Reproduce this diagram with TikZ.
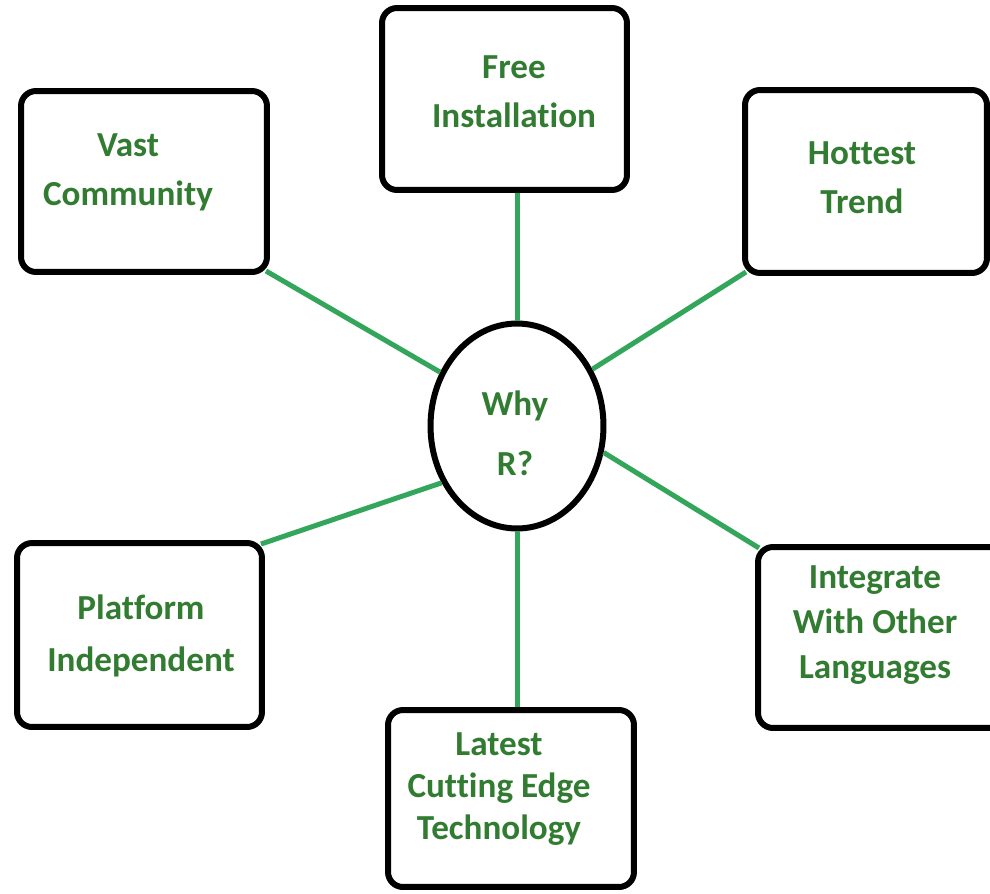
\documentclass[tikz,border=0pt]{standalone}
\usepackage{fontspec}
\setmainfont[Ligatures=CommonOff]{Carlito}
\usepackage{tikz}
\usetikzlibrary{shapes.geometric}
\definecolor{txtgreen}{RGB}{50,124,50}
\definecolor{linkgreen}{RGB}{52,166,92}
\tikzset{
  box/.style = {rectangle, draw=black, line width=0.12cm, rounded corners=0.3cm,
    minimum width=4.9cm, minimum height=3.64cm, fill=white},% outer boxes
  oval/.style = {ellipse, draw=black, line width=0.12cm,
    minimum width=3.46cm, minimum height=4.1cm, inner sep=0pt},% centre
  lbl/.style = {align=center, inner sep=0pt, text=txtgreen,
    font=\bfseries\fontsize{20}{28}\selectfont},% green labels
  link/.style = {draw=linkgreen, line width=0.1cm}% spokes
}
\begin{document}
\begin{tikzpicture}[x=0.02cm,y=-0.02cm]
  \useasboundingbox (0,0) rectangle (990,893);
  \clip (0,0) rectangle (990,893);
  % boxes
  \node [oval] (why) at (517,426) {};
  \node [box] (free) at (504.5,99) {};
  \node [box, minimum width=4.92cm, minimum height=3.62cm] (vast) at (144,181.5) {};
  \node [box, minimum width=4.84cm, minimum height=3.66cm] (hottest) at (866,181.5) {};
  \node [box, minimum height=3.68cm] (platform) at (139.5,635) {};
  \node [box, minimum width=4.94cm, minimum height=3.62cm] (integ) at (881.5,637.5) {};
  \node [box, minimum width=4.92cm, minimum height=3.54cm] (latest) at (511,798.5) {};
  % labels
  \node [lbl, font=\bfseries\fontsize{20}{34}\selectfont] (whyT) at (515,433) {Why\\R?};
  \node [lbl] (freeT) at (514,92) {Free\\Installation};
  \node [lbl] (vastT) at (128,172) {Vast\\Community};
  \node [lbl] (hottestT) at (862,178) {Hottest\\Trend};
  \node [lbl, font=\bfseries\fontsize{20}{30}\selectfont] (platformT) at (141,636) {Platform\\Independent};
  \node [lbl, font=\bfseries\fontsize{20}{25.5}\selectfont] (integT) at (875,625) {Integrate\\With Other\\Languages};
  \node [lbl, font=\bfseries\fontsize{20}{24}\selectfont] (latestT) at (499,789) {Latest\\Cutting Edge\\Technology};
  % spokes
  \draw [link] (free.south -| why.north) -- (why.north);
  \draw [link] ([shift={(-4,-4)}]vast.south east) -- (why.145);
  \draw [link] ([shift={(4,-4)}]hottest.south west) -- (why.37);
  \draw [link] ([shift={(-4,4)}]platform.north east) -- (why.217);
  \draw [link] ([shift={(4,4)}]integ.north west) -- (why.343);
  \draw [link] (why.south) -- (why.south |- latest.north);
\end{tikzpicture}
\end{document}
